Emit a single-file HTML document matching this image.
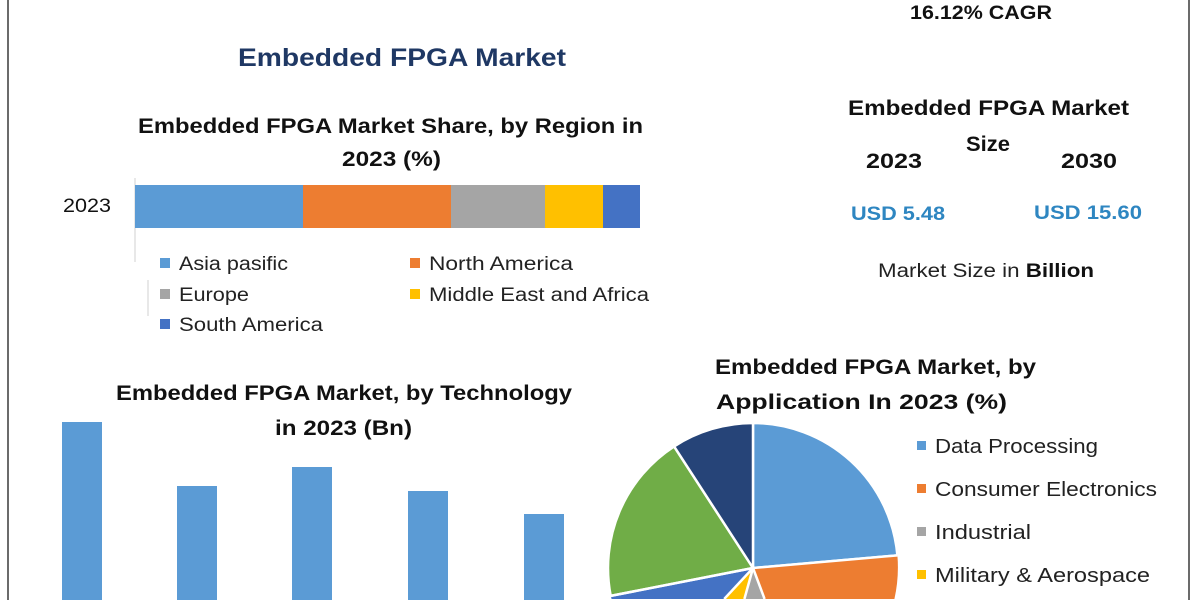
<!DOCTYPE html>
<html><head><meta charset="utf-8"><style>
html,body{margin:0;padding:0;background:#fff;width:1200px;height:600px;overflow:hidden;}
svg{display:block;overflow:hidden;}
text{font-family:"Liberation Sans",sans-serif;}
</style></head><body>
<svg width="1200" height="600" viewBox="0 0 1200 600" xmlns="http://www.w3.org/2000/svg">
<rect width="1200" height="600" fill="#fff"/>
<line x1="8" y1="0" x2="8" y2="600" stroke="#6b6b6b" stroke-width="2"/>
<line x1="1189" y1="0" x2="1189" y2="600" stroke="#6b6b6b" stroke-width="2"/>

<text x="910" y="19" font-size="19" font-weight="bold" fill="#111" textLength="142" lengthAdjust="spacingAndGlyphs">16.12% CAGR</text>
<text x="238" y="66" font-size="25" font-weight="bold" fill="#1f3864" textLength="328" lengthAdjust="spacingAndGlyphs">Embedded FPGA Market</text>

<text x="138" y="133" font-size="21" font-weight="bold" fill="#111" textLength="505" lengthAdjust="spacingAndGlyphs">Embedded FPGA Market Share, by Region in</text>
<text x="342" y="166" font-size="21" font-weight="bold" fill="#111" textLength="99" lengthAdjust="spacingAndGlyphs">2023 (%)</text>
<line x1="135" y1="178" x2="135" y2="262" stroke="#d0d0d0" stroke-width="1"/>
<line x1="148" y1="280" x2="148" y2="316" stroke="#d0d0d0" stroke-width="1"/>
<text x="63" y="212" font-size="19" fill="#111" textLength="48" lengthAdjust="spacingAndGlyphs">2023</text>
<rect x="135" y="185" width="168" height="43" fill="#5b9bd5"/>
<rect x="303" y="185" width="148" height="43" fill="#ed7d31"/>
<rect x="451" y="185" width="94" height="43" fill="#a5a5a5"/>
<rect x="545" y="185" width="58" height="43" fill="#ffc000"/>
<rect x="603" y="185" width="37" height="43" fill="#4472c4"/>

<rect x="160" y="258" width="10" height="10" fill="#5b9bd5"/>
<text x="179" y="270" font-size="19" fill="#222" textLength="109" lengthAdjust="spacingAndGlyphs">Asia pasific</text>
<rect x="410" y="258" width="10" height="10" fill="#ed7d31"/>
<text x="429" y="270" font-size="19" fill="#222" textLength="144" lengthAdjust="spacingAndGlyphs">North America</text>
<rect x="160" y="289" width="10" height="10" fill="#a5a5a5"/>
<text x="179" y="301" font-size="19" fill="#222" textLength="70" lengthAdjust="spacingAndGlyphs">Europe</text>
<rect x="410" y="289" width="10" height="10" fill="#ffc000"/>
<text x="429" y="301" font-size="19" fill="#222" textLength="220" lengthAdjust="spacingAndGlyphs">Middle East and Africa</text>
<rect x="160" y="319" width="10" height="10" fill="#4472c4"/>
<text x="179" y="331" font-size="19" fill="#222" textLength="144" lengthAdjust="spacingAndGlyphs">South America</text>

<text x="848" y="115" font-size="21" font-weight="bold" fill="#111" textLength="281" lengthAdjust="spacingAndGlyphs">Embedded FPGA Market</text>
<text x="966" y="151" font-size="21" font-weight="bold" fill="#111" textLength="44" lengthAdjust="spacingAndGlyphs">Size</text>
<text x="866" y="168" font-size="21" font-weight="bold" fill="#111" textLength="56" lengthAdjust="spacingAndGlyphs">2023</text>
<text x="1061" y="168" font-size="21" font-weight="bold" fill="#111" textLength="56" lengthAdjust="spacingAndGlyphs">2030</text>
<text x="851" y="220" font-size="19" font-weight="bold" fill="#2e86c1" textLength="94" lengthAdjust="spacingAndGlyphs">USD 5.48</text>
<text x="1034" y="219" font-size="19" font-weight="bold" fill="#2e86c1" textLength="108" lengthAdjust="spacingAndGlyphs">USD 15.60</text>
<text x="878" y="277" font-size="19" fill="#222" textLength="216" lengthAdjust="spacingAndGlyphs">Market Size in <tspan font-weight="bold" fill="#111">Billion</tspan></text>

<text x="116" y="400" font-size="21" font-weight="bold" fill="#111" textLength="456" lengthAdjust="spacingAndGlyphs">Embedded FPGA Market, by Technology</text>
<text x="275" y="435" font-size="21" font-weight="bold" fill="#111" textLength="137" lengthAdjust="spacingAndGlyphs">in 2023 (Bn)</text>
<rect x="62" y="422" width="40" height="178" fill="#5b9bd5"/>
<rect x="177" y="486" width="40" height="114" fill="#5b9bd5"/>
<rect x="292" y="467" width="40" height="133" fill="#5b9bd5"/>
<rect x="408" y="491" width="40" height="109" fill="#5b9bd5"/>
<rect x="524" y="514" width="40" height="86" fill="#5b9bd5"/>

<text x="715" y="374" font-size="21" font-weight="bold" fill="#111" textLength="321" lengthAdjust="spacingAndGlyphs">Embedded FPGA Market, by</text>
<text x="716" y="409" font-size="21" font-weight="bold" fill="#111" textLength="291" lengthAdjust="spacingAndGlyphs">Application In 2023 (%)</text>

<path d="M753,568 L753,423 A145,145 0 0 1 897.4,555.4 Z" fill="#5b9bd5" stroke="#fff" stroke-width="2.5" stroke-linejoin="round"/>
<path d="M753,568 L897.4,555.4 A145,145 0 0 1 894.4,599 L764.6,599 Z" fill="#ed7d31"/>
<path d="M753,568 L764.6,599 L744.4,599 Z" fill="#a5a5a5"/>
<path d="M753,568 L744.4,599 L724.2,599 Z" fill="#ffc000"/>
<path d="M753,568 L724.2,599 L611.6,599 A145,145 0 0 1 610.7,595.9 Z" fill="#4472c4"/>
<path d="M753,568 L610.7,595.9 A145,145 0 0 1 674.1,446.4 Z" fill="#70ad47" stroke="#fff" stroke-width="2.5" stroke-linejoin="round"/>
<path d="M753,568 L674.1,446.4 A145,145 0 0 1 753,423 Z" fill="#264478" stroke="#fff" stroke-width="2.5" stroke-linejoin="round"/>
<g stroke="#fff" stroke-width="2.5">
<line x1="753" y1="568" x2="897.4" y2="555.4"/>
<line x1="753" y1="568" x2="764.6" y2="599"/>
<line x1="753" y1="568" x2="744.4" y2="599"/>
<line x1="753" y1="568" x2="724.2" y2="599"/>
<line x1="753" y1="568" x2="610.7" y2="595.9"/>
</g>

<rect x="917" y="441" width="9" height="9" fill="#5b9bd5"/>
<text x="935" y="453" font-size="20" fill="#222" textLength="163" lengthAdjust="spacingAndGlyphs">Data Processing</text>
<rect x="917" y="484" width="9" height="9" fill="#ed7d31"/>
<text x="935" y="496" font-size="20" fill="#222" textLength="222" lengthAdjust="spacingAndGlyphs">Consumer Electronics</text>
<rect x="917" y="527" width="9" height="9" fill="#a5a5a5"/>
<text x="935" y="539" font-size="20" fill="#222" textLength="96" lengthAdjust="spacingAndGlyphs">Industrial</text>
<rect x="917" y="570" width="9" height="9" fill="#ffc000"/>
<text x="935" y="582" font-size="20" fill="#222" textLength="215" lengthAdjust="spacingAndGlyphs">Military &amp; Aerospace</text>
</svg>
</body></html>
